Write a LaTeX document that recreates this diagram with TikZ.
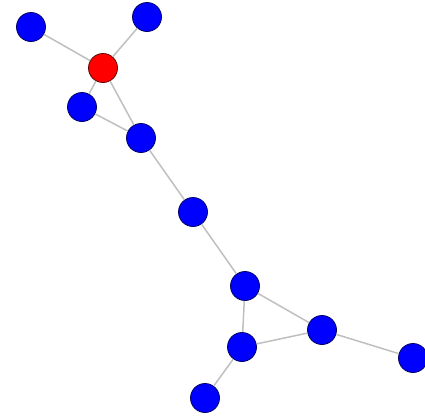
\documentclass[tikz,border=0pt]{standalone}
\usepackage{tikz}
\tikzset{vtx/.style={circle, draw=blue!40!black, fill=blue, line width=0.8pt, inner sep=0pt, minimum size=29pt},
         hub/.style={vtx, draw=red!40!black, fill=red},
         edge/.style={draw=gray!50, line width=1.5pt}}

\begin{document}
\begin{tikzpicture}[x=1pt, y=-1pt]
    \useasboundingbox (0,0) rectangle (425,416);
    \node[hub] (r) at (103,68) {};
    \node[vtx] (a) at (31,27) {};
    \node[vtx] (b) at (147,17) {};
    \node[vtx] (c) at (82,107) {};
    \node[vtx] (d) at (141,138) {};
    \node[vtx] (e) at (193,212) {};
    \node[vtx] (f) at (245,286) {};
    \node[vtx] (g) at (322,330) {};
    \node[vtx] (h) at (242,347) {};
    \node[vtx] (i) at (413,358) {};
    \node[vtx] (j) at (205,398) {};
    \path[edge] (a) -- (r) (b) -- (r) (r) -- (c) (r) -- (d) (c) -- (d)
        (d) -- (e) (e) -- (f) (f) -- (g) (f) -- (h) (h) -- (g)
        (g) -- (i) (h) -- (j);
\end{tikzpicture}
\end{document}
